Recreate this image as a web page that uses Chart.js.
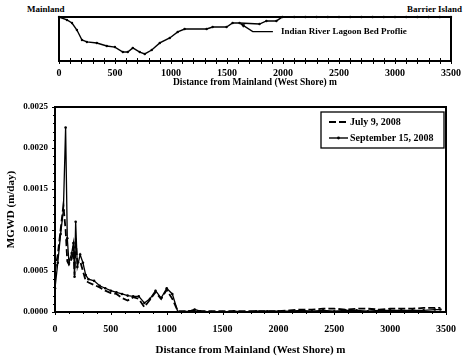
<!DOCTYPE html>
<html><head><meta charset="utf-8">
<script src="https://cdn.jsdelivr.net/npm/chart.js@4/dist/chart.umd.min.js"></script>
<style>
html,body{margin:0;padding:0;background:#fff;width:467px;height:357px;overflow:hidden;}
#c1{position:absolute;left:0;top:0;}
#c2{position:absolute;left:0;top:88px;}
.lbl{position:absolute;font-family:"Liberation Serif",serif;font-weight:bold;font-size:9px;color:#000;white-space:nowrap;}
</style></head><body>
<div class="lbl" style="left:27px;top:4px;">Mainland</div>
<div class="lbl" style="left:407px;top:4px;">Barrier Island</div>
<canvas id="c1" width="467" height="88"></canvas>
<canvas id="c2" width="467" height="269"></canvas>
<script>
// ---- Data ----
const profileDist = [0, 71, 116, 160, 205, 249, 338, 427, 499, 570, 614, 659, 721, 766, 828, 900, 989, 1060, 1122, 1318, 1372, 1496, 1550, 1612, 1790, 1852, 1941, 1995, 2100, 2200, 2300, 2400, 2500, 2600, 2700, 2800, 2900, 3000, 3100, 3200, 3300, 3400, 3500];
const profileDepth = [0, 0.2, 0.41, 0.89, 1.57, 1.7, 1.77, 1.98, 2.05, 2.39, 2.39, 2.11, 2.39, 2.52, 2.25, 1.77, 1.43, 1.02, 0.82, 0.82, 0.68, 0.68, 0.41, 0.41, 0.48, 0.27, 0.27, 0, 0, 0, 0, 0, 0, 0, 0, 0, 0, 0, 0, 0, 0, 0, 0];

const distance = [0, 25, 50, 75, 95, 110, 125, 150, 165, 175, 185, 200, 225, 250, 275, 300, 350, 400, 450, 500, 550, 600, 650, 700, 750, 800, 850, 900, 950, 1000, 1050, 1100, 1200, 1250, 1300, 1400, 1500, 1600, 1700, 1800, 1900, 2000, 2100, 2200, 2300, 2400, 2500, 2600, 2700, 2800, 2900, 3000, 3100, 3200, 3300, 3400, 3450];
const july9 = [0.0005, 0.0007, 0.001, 0.0013, 0.001, 0.00062, 0.00058, 0.00065, 0.0008, 0.00045, 0.0009, 0.0006, 0.00062, 0.0005, 0.00038, 0.00036, 0.00033, 0.0003, 0.00026, 0.00023, 0.00022, 0.00017, 0.00014, 0.00018, 0.00016, 0.00006, 0.00015, 0.00024, 0.00016, 0.00027, 0.00016, 0.00001, 0.00001, 0.00002, 0.00001, 0.00001, 0.00001, 0.00001, 0.00001, 0.00001, 0.00001, 0.00001, 0.00002, 0.00003, 0.00003, 0.00004, 0.00004, 0.00003, 0.00004, 0.00004, 0.00003, 0.00004, 0.00004, 0.00004, 0.00005, 0.00005, 0.00005];
const sept15 = [0.00029, 0.0006, 0.00095, 0.00124, 0.00225, 0.0009, 0.0006, 0.00072, 0.00084, 0.00043, 0.0011, 0.00055, 0.0007, 0.0006, 0.00045, 0.0004, 0.00038, 0.00032, 0.00029, 0.00026, 0.00024, 0.00022, 0.0002, 0.00019, 0.00019, 0.00011, 0.00016, 0.00026, 0.00017, 0.00029, 0.00022, 0, 0.00001, 0.00003, 0.00001, 0, 0, 0.00001, 0, 0.00001, 0.00001, 0.00001, 0.00001, 0.00002, 0.00001, 0.00002, 0.00001, 0.00002, 0.00002, 0.00001, 0.00002, 0.00002, 0.00002, 0.00002, 0.00002, 0.00003, 0.00003];

const seriesNames = ['July 9, 2008', 'September 15, 2008'];
const profileLabel = 'Indian River Lagoon Bed Proflie';
const xTitle = 'Distance from Mainland (West Shore) m';
const yTitle = 'MGWD (m/day)';

const FONT = '"Liberation Serif", "Times New Roman", serif';
const pts = (xs, ys) => xs.map((x, i) => ({x: x, y: ys[i]}));

function drawFrameTicks(chart, opts) {
  const ctx = chart.ctx, a = chart.chartArea;
  ctx.save();
  ctx.globalCompositeOperation = 'source-over';
  ctx.globalAlpha = 1;
  ctx.setLineDash([]);
  ctx.strokeStyle = '#000000';
  ctx.lineWidth = opts.frameWidth;
  const L = Math.round(a.left), T = Math.round(a.top), R = Math.round(a.right), B = Math.round(a.bottom);
  ctx.strokeRect(L, T, R - L, B - T);
  ctx.lineWidth = 1;
  const xs = chart.scales.x;
  const nX = Math.round((xs.max - xs.min) / opts.xMinor);
  for (let i = 0; i <= nX; i++) {
    const v = xs.min + i * opts.xMinor;
    const px = Math.round(xs.getPixelForValue(v)) + 0.5;
    const major = Math.abs(v / opts.xMajor - Math.round(v / opts.xMajor)) < 1e-6;
    const len = major ? opts.majorLen : opts.minorLen;
    ctx.beginPath();
    ctx.moveTo(px, B - (opts.xCross ? len : 0));
    ctx.lineTo(px, B + len);
    ctx.stroke();
  }
  if (opts.yMinor) {
    const ys = chart.scales.y;
    const nY = Math.round((ys.max - ys.min) / opts.yMinor);
    for (let i = 0; i <= nY; i++) {
      const v = ys.min + i * opts.yMinor;
      const py = Math.round(ys.getPixelForValue(v)) + 0.5;
      const len = (i % 5 === 0) ? opts.majorLen : opts.minorLen;
      ctx.beginPath();
      ctx.moveTo(L - len, py);
      ctx.lineTo(L, py);
      ctx.stroke();
    }
  }
  ctx.restore();
}

// ---- Top chart: lagoon bed profile ----
const topOpts = { frameWidth: 2, xMinor: 100, xMajor: 500, majorLen: 3, minorLen: 3, xCross: true };
const topPlugin = {
  id: 'topDecor',
  afterDraw(chart) {
    drawFrameTicks(chart, topOpts);
    const ctx = chart.ctx;
    const xs = chart.scales.x, ys = chart.scales.y;
    const tipX = xs.getPixelForValue(1620), tipY = ys.getPixelForValue(0.45);
    const elbowX = xs.getPixelForValue(1730), elbowY = ys.getPixelForValue(1.0);
    const endX = xs.getPixelForValue(1910);
    ctx.save();
    ctx.strokeStyle = '#000'; ctx.fillStyle = '#000'; ctx.lineWidth = 1.3;
    ctx.beginPath();
    ctx.moveTo(tipX, tipY); ctx.lineTo(elbowX, elbowY); ctx.lineTo(endX, elbowY);
    ctx.stroke();
    const ang = Math.atan2(tipY - elbowY, tipX - elbowX);
    ctx.beginPath();
    ctx.moveTo(tipX, tipY);
    ctx.lineTo(tipX - 5 * Math.cos(ang - 0.4), tipY - 5 * Math.sin(ang - 0.4));
    ctx.lineTo(tipX - 5 * Math.cos(ang + 0.4), tipY - 5 * Math.sin(ang + 0.4));
    ctx.closePath(); ctx.fill();
    ctx.font = 'bold 9px ' + FONT;
    ctx.textBaseline = 'middle'; ctx.textAlign = 'left';
    ctx.fillText(profileLabel, endX + 8, elbowY);
    ctx.restore();
  }
};

new Chart(document.getElementById('c1'), {
  type: 'line',
  data: { datasets: [{
    label: profileLabel,
    data: pts(profileDist, profileDepth),
    borderColor: '#000', borderWidth: 1.4, pointRadius: 1.2, pointBackgroundColor: '#000',
    pointBorderWidth: 0, tension: 0, clip: false
  }]},
  options: {
    responsive: false, animation: false,
    layout: { padding: { top: 17, right: 15, left: 59, bottom: 0 } },
    plugins: { legend: { display: false }, tooltip: { enabled: false } },
    scales: {
      x: {
        type: 'linear', min: 0, max: 3500,
        grid: { display: false, drawTicks: false }, border: { display: false },
        ticks: { stepSize: 500, padding: 6, color: '#000', font: { family: FONT, weight: 'bold', size: 10 }, maxRotation: 0,
          callback: v => String(v) },
        title: { display: true, text: xTitle, color: '#000', font: { family: FONT, weight: 'bold', size: 9.5 }, padding: { top: 0, bottom: 0 } },
        afterFit(s) { s.height = 27; }
      },
      y: { display: false, reverse: true, min: 0, max: 3 }
    }
  },
  plugins: [topPlugin]
});

// ---- Main chart ----
const mainOpts = { frameWidth: 2, xMinor: 125, xMajor: 500, majorLen: 3, minorLen: 2, xCross: false, yMinor: 0.0001 };
const mainPlugin = {
  id: 'mainDecor',
  afterDraw(chart) {
    drawFrameTicks(chart, mainOpts);
    const ctx = chart.ctx;
    const a = chart.chartArea;
    const bx = a.right - 125, by = a.top + 5, bw = 123, bh = 36;
    ctx.save();
    ctx.fillStyle = '#fff'; ctx.fillRect(bx, by, bw, bh);
    ctx.strokeStyle = '#000'; ctx.lineWidth = 1.3; ctx.strokeRect(bx, by, bw, bh);
    ctx.font = 'bold 10px ' + FONT; ctx.fillStyle = '#000';
    ctx.textBaseline = 'middle'; ctx.textAlign = 'left';
    const rows = [by + 10, by + 26];
    ctx.lineWidth = 1.8; ctx.setLineDash([7, 3]);
    ctx.beginPath(); ctx.moveTo(bx + 8, rows[0]); ctx.lineTo(bx + 27, rows[0]); ctx.stroke();
    ctx.setLineDash([]);
    ctx.lineWidth = 1.4;
    ctx.beginPath(); ctx.moveTo(bx + 8, rows[1]); ctx.lineTo(bx + 27, rows[1]); ctx.stroke();
    ctx.beginPath(); ctx.arc(bx + 17.5, rows[1], 1.4, 0, Math.PI * 2); ctx.fill();
    ctx.fillText(seriesNames[0], bx + 29, rows[0]);
    ctx.fillText(seriesNames[1], bx + 29, rows[1]);
    ctx.restore();
  }
};

new Chart(document.getElementById('c2'), {
  type: 'line',
  data: { datasets: [
    { label: seriesNames[0], data: pts(distance, july9), borderColor: '#000', borderWidth: 1.8,
      borderDash: [7, 3], pointRadius: 0, tension: 0 },
    { label: seriesNames[1], data: pts(distance, sept15), borderColor: '#000', borderWidth: 1.3,
      pointRadius: 1.3, pointBackgroundColor: '#000', pointBorderWidth: 0, tension: 0 }
  ]},
  options: {
    responsive: false, animation: false,
    layout: { padding: { top: 19, right: 15, left: 0, bottom: 0 } },
    plugins: { legend: { display: false }, tooltip: { enabled: false } },
    scales: {
      x: {
        type: 'linear', min: 0, max: 3500,
        grid: { display: false, drawTicks: false }, border: { display: false },
        ticks: { stepSize: 500, padding: 11, color: '#000', font: { family: FONT, weight: 'bold', size: 10 }, maxRotation: 0,
          callback: v => String(v) },
        title: { display: true, text: xTitle, color: '#000', font: { family: FONT, weight: 'bold', size: 11 }, padding: { top: 0, bottom: 0 } },
        afterFit(s) { s.height = 45; }
      },
      y: {
        min: 0, max: 0.0025,
        grid: { display: false, drawTicks: false }, border: { display: false },
        ticks: { stepSize: 0.0005, padding: 7, color: '#000', font: { family: FONT, weight: 'bold', size: 9 },
          callback: v => v.toFixed(4) },
        title: { display: true, text: yTitle, color: '#000', font: { family: FONT, weight: 'bold', size: 11 }, padding: { top: 5, bottom: 0 } },
        afterFit(s) { s.width = 55; }
      }
    }
  },
  plugins: [mainPlugin]
});
</script>
</body></html>
